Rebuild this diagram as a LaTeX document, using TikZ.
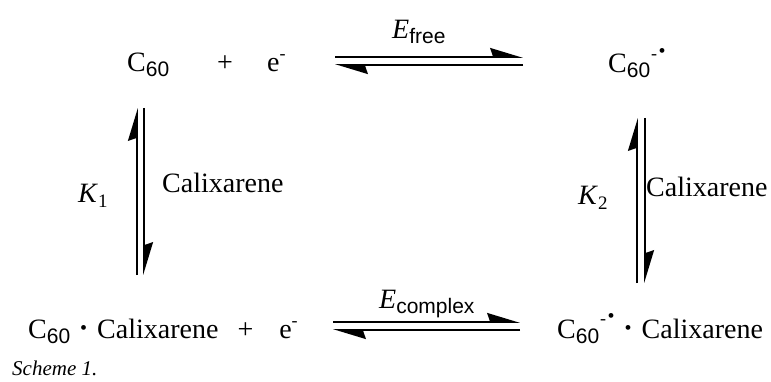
\documentclass[tikz,border=0pt]{standalone}
\usepackage{fontspec}
\setmainfont{Liberation Serif}
\setsansfont{Liberation Sans}
\usetikzlibrary{arrows.meta}
\newcommand\lsub[1]{\raisebox{-5pt}{\fontsize{21}{21}\sffamily #1}}
\newcommand\ksub[1]{\raisebox{-5pt}{\fontsize{19}{19}\selectfont #1}}
\newcommand\esup{\raisebox{12pt}{\fontsize{18}{18}\selectfont -}}
\newcommand\rad{\kern1pt\raisebox{13.5pt}{\fontsize{18}{18}\selectfont -}\kern1.5pt\raisebox{15.5pt}{\fontsize{20}{20}\selectfont •}}
\newcommand\cdotb{\kern10pt\raisebox{4pt}{\fontsize{20}{20}\selectfont •}\kern10pt}
\begin{document}
\begin{tikzpicture}[x=1pt,y=-1pt,
  txt/.style={inner sep=0pt,font=\fontsize{28}{32}\selectfont},
  half/.style={line width=1.7pt,-{Stealth[left,length=30pt,width=18pt,inset=3pt]}}]
\useasboundingbox (0,0) rectangle (771,382);
% top row
\node[txt,anchor=base west] (c60) at (127,72) {C\lsub{60}};
\node[txt,anchor=base] (plus1) at (225,72) {+};
\node[txt,anchor=base west] (e1) at (267,72) {e\esup};
\node[txt,anchor=base west] (rad1) at (608,73) {C\lsub{60}\rad};
\node[txt,anchor=base west] (efree) at (392,39) {\textit{E}\lsub{free}};
% bottom row
\node[txt,anchor=base west] (cplx) at (28,338) {C\lsub{60}\cdotb Calixarene\kern19pt+\kern26pt e\esup};
\node[txt,anchor=base west] (rad2) at (557,338) {C\lsub{60}\rad\cdotb Calixarene};
\node[txt,anchor=base west] (ecomp) at (379,308) {\textit{E}\lsub{complex}};
% side labels
\node[txt,anchor=base west] (k1) at (78,203) {\textit{K}\ksub{1}};
\node[txt,anchor=base west] (cal1) at (162,193) {Calixarene};
\node[txt,anchor=base west] (k2) at (578,205) {\textit{K}\ksub{2}};
\node[txt,anchor=base west] (cal2) at (646,197) {Calixarene};
% scheme caption
\node[inner sep=0pt,anchor=base west,font=\fontsize{21}{24}\selectfont\itshape] (cap) at (12,375) {Scheme 1.};
% arrow end points
\coordinate (t1a) at (335,57); \coordinate (t1b) at (523,57);
\coordinate (t2a) at (523,65); \coordinate (t2b) at (335,65);
\coordinate (b1a) at (333,322); \coordinate (b1b) at (520,322);
\coordinate (b2a) at (520,330); \coordinate (b2b) at (333,330);
\coordinate (l1a) at (137,275); \coordinate (l1b) at (137,108);
\coordinate (l2a) at (144,108); \coordinate (l2b) at (144,275);
\coordinate (r1a) at (637,283); \coordinate (r1b) at (637,118);
\coordinate (r2a) at (645,118); \coordinate (r2b) at (645,283);
\draw[half] (t1a) -- (t1b);
\draw[half] (t2a) -- (t2b);
\draw[half] (b1a) -- (b1b);
\draw[half] (b2a) -- (b2b);
\draw[half] (l1a) -- (l1b);
\draw[half] (l2a) -- (l2b);
\draw[half] (r1a) -- (r1b);
\draw[half] (r2a) -- (r2b);
\end{tikzpicture}
\end{document}
